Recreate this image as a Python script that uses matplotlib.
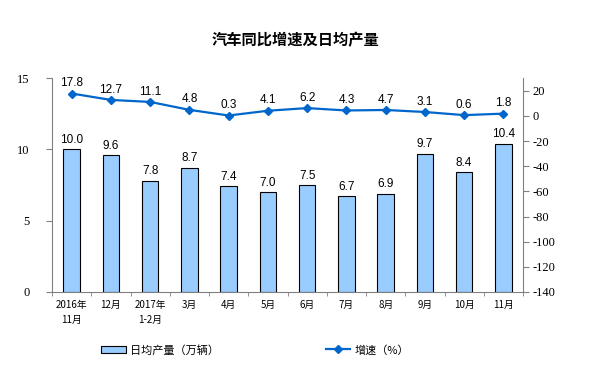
import matplotlib.pyplot as plt
import numpy as np
from matplotlib.patches import Patch
from matplotlib.lines import Line2D

plt.rcParams['font.family'] = ['Noto Sans CJK SC', 'DejaVu Sans']
plt.rcParams['axes.unicode_minus'] = False

# ── Data ───────────────────────────────────────────────────────────────────────
months = ["2016年\n11月", "12月", "2017年\n1-2月", "3月", "4月", "5月",
          "6月", "7月", "8月", "9月", "10月", "11月"]
daily_output = [10.0, 9.6, 7.8, 8.7, 7.4, 7.0, 7.5, 6.7, 6.9, 9.7, 8.4, 10.4]
growth = [17.8, 12.7, 11.1, 4.8, 0.3, 4.1, 6.2, 4.3, 4.7, 3.1, 0.6, 1.8]

BAR_COLOR = "#99CCFF"
LINE_COLOR = "#0066CC"
SPINE = "#808080"

# ── Plot ───────────────────────────────────────────────────────────────────────
fig = plt.figure(figsize=(5.91, 3.85), dpi=100)
ax = fig.add_axes([0.088, 0.2416, 0.797, 0.5554])
ax2 = ax.twinx()

x = np.arange(len(months))
ax.bar(x, daily_output, width=0.42, color=BAR_COLOR, edgecolor="black", linewidth=0.8)
for xi, v in zip(x, daily_output):
    ax.text(xi, v + 0.25, f"{v:.1f}", ha="center", va="bottom",
            fontsize=8.5, family="Liberation Sans")

ax2.plot(x, growth, color=LINE_COLOR, linewidth=1.6, marker="D", markersize=4)
for xi, v in zip(x, growth):
    ax2.text(xi, v + 3.5, f"{v:.1f}", ha="center", va="bottom",
             fontsize=8.5, family="Liberation Sans")

ax.set_xlim(-0.5, len(months) - 0.5)
ax.set_ylim(0, 15)
ax.set_yticks([0, 5, 10, 15])
ax2.set_ylim(-140, 30)
ax2.set_yticks(np.arange(-140, 21, 20))

for a in (ax, ax2):
    for s in a.spines.values():
        s.set_color(SPINE)
    a.spines["top"].set_visible(False)
ax.spines["right"].set_visible(False)
ax2.spines["left"].set_visible(False)
ax2.spines["bottom"].set_visible(False)

ax.tick_params(axis="y", length=4, color=SPINE, labelsize=9, pad=12)
ax2.tick_params(axis="y", length=4, color=SPINE, labelsize=9, pad=3)
for lab in ax.get_yticklabels() + ax2.get_yticklabels():
    lab.set_family("Liberation Serif")

ax.set_xticks(x)
ax.set_xticklabels(months, fontsize=7, linespacing=1.6)
ax.tick_params(axis="x", length=0, pad=6)
ax.set_xticks(np.arange(-0.5, len(months), 1), minor=True)
ax.tick_params(axis="x", which="minor", length=3, color=SPINE)

fig.text(0.5, 0.895, "汽车同比增速及日均产量", ha="center", va="center",
         fontsize=11, fontweight="bold")

handles = [Patch(facecolor=BAR_COLOR, edgecolor="black", linewidth=0.8),
           Line2D([0], [0], color=LINE_COLOR, linewidth=1.6, marker="D", markersize=4)]
fig.legend(handles, ["日均产量（万辆）", "增速（%）"], loc="center",
           bbox_to_anchor=(0.432, 0.091), ncol=2, frameon=False, fontsize=8,
           columnspacing=9.6, handlelength=2.2, handletextpad=0.4)

fig.savefig("out.png", dpi=100)
